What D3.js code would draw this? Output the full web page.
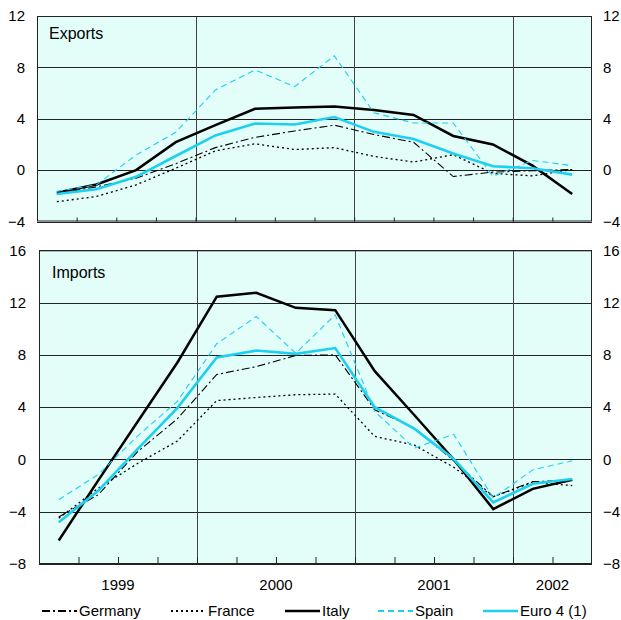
<!DOCTYPE html>
<html>
<head>
<meta charset="utf-8">
<script src="https://cdn.jsdelivr.net/npm/d3@7/dist/d3.min.js"></script>
<style>
  html, body { margin: 0; padding: 0; background: #fff; }
  svg { display: block; }
  text { font-family: "Liberation Sans", Arial, sans-serif; font-size: 15px; fill: #000; }
</style>
</head>
<body>
<svg id="chart" width="621" height="620"></svg>
<script>
// Quarterly growth, 1999 Q1 – 2002 Q2
const quarters = ["1999Q1","1999Q2","1999Q3","1999Q4","2000Q1","2000Q2","2000Q3","2000Q4",
                  "2001Q1","2001Q2","2001Q3","2001Q4","2002Q1","2002Q2"];
const years = ["1999", "2000", "2001", "2002"];
const yearCentres = [2, 6, 10, 13];          // position along the quarter axis
const yearBreaks = [4, 8, 12];

const exportsGermany = [-1.85, -1.3, -0.63, 0.5, 1.75, 2.55, 3.05, 3.5, 2.77, 2.17, -0.5, -0.15, -0.05, 0.05];
const exportsFrance  = [-2.46, -2.05, -1.15, 0.15, 1.5, 2.05, 1.6, 1.75, 1.07, 0.63, 1.2, -0.25, -0.45, 0.05];
const exportsItaly   = [-1.76, -1.12, 0.0, 2.18, 3.5, 4.78, 4.88, 4.96, 4.68, 4.3, 2.66, 2.0, 0.35, -1.86];
const exportsSpain   = [-1.65, -1.15, 1.18, 2.95, 6.24, 7.8, 6.5, 8.9, 4.47, 3.67, 3.67, -0.47, 0.75, 0.35];
const exportsEuro4   = [-1.86, -1.49, -0.52, 1.1, 2.7, 3.63, 3.55, 4.13, 2.98, 2.43, 1.3, 0.3, 0.15, -0.35];

const importsGermany = [-4.4, -2.7, 0.6, 3.1, 6.5, 7.1, 7.95, 8.0, 3.8, 2.4, -0.1, -2.85, -1.7, -1.6];
const importsFrance  = [-4.5, -2.2, -0.3, 1.4, 4.5, 4.74, 4.95, 5.0, 1.76, 1.1, -0.6, -2.85, -1.75, -2.0];
const importsItaly   = [-6.2, -1.6, 2.9, 7.4, 12.45, 12.75, 11.6, 11.42, 6.75, 3.4, 0.0, -3.8, -2.25, -1.55];
const importsSpain   = [-3.08, -1.15, 1.8, 4.43, 8.85, 10.93, 8.13, 11.06, 3.67, 0.87, 1.92, -2.95, -0.8, -0.1];
const importsEuro4   = [-4.8, -2.4, 0.8, 3.93, 7.8, 8.33, 8.08, 8.52, 4.0, 2.35, 0.03, -3.29, -1.86, -1.5];

const seriesNames = ["Germany", "France", "Italy", "Spain", "Euro 4 (1)"];
const exportTicks = [-4, 0, 4, 8, 12];
const importTicks = [-8, -4, 0, 4, 8, 12, 16];

const CYAN = "#1dd0f0";
const styles = {
  "Germany":    { stroke: "#000", width: 1.1, dash: "8,3,2,3" },
  "France":     { stroke: "#000", width: 1.3, dash: "2,3" },
  "Italy":      { stroke: "#000", width: 2.5, dash: null },
  "Spain":      { stroke: CYAN,  width: 1.1, dash: "6,4" },
  "Euro 4 (1)": { stroke: CYAN,  width: 2.6, dash: null }
};

const svg = d3.select("#chart");

function panel(cfg) {
  const x = d3.scaleLinear().domain([0, quarters.length]).range([cfg.left, cfg.right]);
  const y = d3.scaleLinear().domain(cfg.domain).range([cfg.bottom, cfg.top]);
  const g = svg.append("g");

  g.append("rect")
    .attr("x", cfg.left).attr("y", cfg.top)
    .attr("width", cfg.right - cfg.left).attr("height", cfg.bottom - cfg.top)
    .attr("fill", "#e3fdf9");

  // horizontal grid
  g.append("g").selectAll("line").data(cfg.ticks).join("line")
    .attr("x1", cfg.left).attr("x2", cfg.right)
    .attr("y1", d => Math.round(y(d)) + 0.5).attr("y2", d => Math.round(y(d)) + 0.5)
    .attr("stroke", "#222").attr("stroke-width", 1);

  // year separators
  g.append("g").selectAll("line").data(yearBreaks).join("line")
    .attr("x1", d => Math.round(x(d)) + 0.5).attr("x2", d => Math.round(x(d)) + 0.5)
    .attr("y1", cfg.top).attr("y2", cfg.bottom)
    .attr("stroke", "#444").attr("stroke-width", 1);

  // quarter ticks pointing inward from the bottom edge
  const xAxis = d3.axisBottom(x).tickValues(d3.range(1, quarters.length))
    .tickSize(-cfg.tickLen).tickFormat("");
  const ax = g.append("g").attr("transform", `translate(0,${cfg.bottom})`).call(xAxis);
  ax.select(".domain").remove();
  ax.selectAll("line").attr("stroke", "#222");

  // value labels on both sides
  const left = g.append("g").attr("transform", `translate(${cfg.left},0)`)
    .call(d3.axisLeft(y).tickValues(cfg.ticks).tickSize(0).tickPadding(cfg.padL).tickFormat(d3.format("d")));
  const right = g.append("g").attr("transform", `translate(${cfg.right},0)`)
    .call(d3.axisRight(y).tickValues(cfg.ticks).tickSize(0).tickPadding(cfg.padR).tickFormat(d3.format("d")));
  [left, right].forEach(a => {
    a.select(".domain").remove();
    a.selectAll("text").attr("font-size", 15).attr("font-family", "Liberation Sans, Arial, sans-serif").attr("fill", "#000");
  });

  // series
  const line = d3.line().x((d, i) => x(i + 0.5)).y(d => y(d));
  cfg.series.forEach((vals, k) => {
    const st = styles[seriesNames[k]];
    g.append("path").datum(vals)
      .attr("d", line).attr("fill", "none")
      .attr("stroke", st.stroke).attr("stroke-width", st.width)
      .attr("stroke-dasharray", st.dash)
      .attr("stroke-linejoin", "miter");
  });

  // frame
  g.append("rect")
    .attr("x", cfg.left + 0.5).attr("y", cfg.top + 0.5)
    .attr("width", cfg.right - cfg.left - 1).attr("height", cfg.bottom - cfg.top - 1)
    .attr("fill", "none").attr("stroke", "#222").attr("stroke-width", 1);

  g.append("text").attr("x", cfg.titleX).attr("y", cfg.titleY)
    .style("font-size", "16px").text(cfg.title);
  return x;
}

panel({
  title: "Exports", titleX: 49, titleY: 39,
  left: 37, right: 592, top: 16, bottom: 221.5,
  domain: [-4, 12], ticks: exportTicks, tickLen: 4, padL: 12, padR: 11,
  series: [exportsGermany, exportsFrance, exportsItaly, exportsSpain, exportsEuro4]
});

const xb = panel({
  title: "Imports", titleX: 52, titleY: 278,
  left: 39, right: 592, top: 250.3, bottom: 564,
  domain: [-8, 16], ticks: importTicks, tickLen: 7, padL: 13, padR: 11,
  series: [importsGermany, importsFrance, importsItaly, importsSpain, importsEuro4]
});

// year labels
svg.append("g").selectAll("text").data(years).join("text")
  .attr("x", (d, i) => xb(yearCentres[i])).attr("y", 590)
  .attr("text-anchor", "middle").text(d => d);

// legend
const legendX = [42, 171, 285, 378, 483];
const leg = svg.append("g").selectAll("g").data(seriesNames).join("g")
  .attr("transform", (d, i) => `translate(${legendX[i]},611)`);
leg.append("line").attr("x1", 0).attr("x2", 35).attr("y1", 0).attr("y2", 0)
  .attr("stroke", d => styles[d].stroke)
  .attr("stroke-width", d => Math.max(styles[d].width, 2))
  .attr("stroke-dasharray", d => styles[d].dash);
leg.append("text").attr("x", 37).attr("y", 5).text(d => d);
</script>
</body>
</html>
